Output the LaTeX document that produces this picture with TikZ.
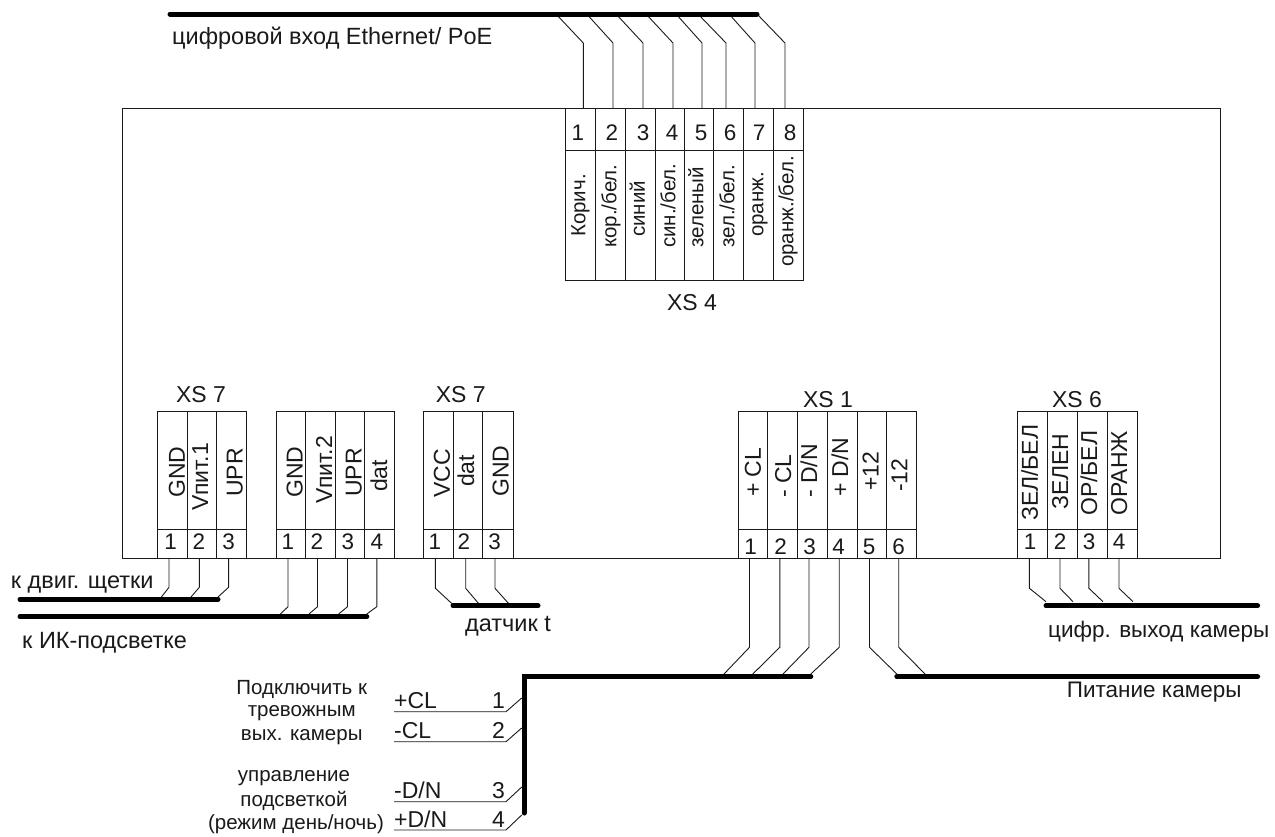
\documentclass[tikz,border=0pt]{standalone}
\usepackage{fontspec}
\setmainfont{Liberation Sans}
\definecolor{ink}{HTML}{1A1A1A}
\tikzset{
  wire/.style={draw=ink,line width=0.9pt},
  bus/.style={draw=black,line width=5pt,line cap=round},
  tline/.style={draw=ink,line width=0.9pt},
  lbl/.style={text=ink,inner sep=0pt,font=\fontsize{23.5}{26}\selectfont},
  lblc/.style={text=ink,inner sep=0pt,font=\fontsize{23}{26}\selectfont},
  small/.style={text=ink,inner sep=0pt,font=\fontsize{20.5}{23}\selectfont},
  digit/.style={text=ink,inner sep=0pt,font=\fontsize{22.5}{24}\selectfont},
  vert/.style={text=ink,inner sep=0pt,rotate=90,anchor=west,text height=16pt,text depth=0pt,font=\fontsize{23}{25}\selectfont},
  vertb/.style={text=ink,inner sep=0pt,rotate=90,anchor=west,text height=14.5pt,text depth=0pt,font=\fontsize{20.5}{23}\selectfont},
}
\newcommand{\gridtab}[4]{%
  \foreach \gx in {#1}{\draw[tline] (\gx,#2) -- (\gx,#4);}
  \foreach \gx [count=\gi] in {#1}{\ifnum\gi=1 \global\let\gfirst\gx\fi \global\let\glast\gx}
  \draw[tline] (\gfirst,#2) -- (\glast,#2);
  \draw[tline] (\gfirst,#3) -- (\glast,#3);
  \draw[tline] (\gfirst,#4) -- (\glast,#4);
}
\newcommand{\wirerun}[6]{%
  \coordinate (#1p) at (#2,#3);
  \coordinate (#1k) at (#2,#4);
  \coordinate (#1e) at (#5,#6);
  \draw[wire] (#1p) -- (#1k) -- (#1e);
}
\begin{document}
\begin{tikzpicture}[x=1pt,y=-1pt]
\useasboundingbox (0,0) rectangle (1275,836);
\fill[white] (0,0) rectangle (1275,836);

% main box
\node[draw=ink,line width=0.9pt,minimum width=1098pt,minimum height=450pt,anchor=north west,inner sep=0pt,outer sep=0pt] (box) at (122,108) {};

% XS4
\gridtab{565.7,595.7,625,655,684,713.7,743,773,803}{108}{150}{280.7}
\foreach \x/\n [count=\i] in {578/1,612/2,643/3,672/4,701/5,730/6,759/7,790/8}{
  \node[digit] (xs4d\i) at (\x,133) {\n};
}
\node[vertb] (xs4t1) at (578,237) {Корич.};
\node[vertb] (xs4t2) at (609,248) {кор./бел.};
\node[vertb] (xs4t3) at (637.5,237) {синий};
\node[vertb] (xs4t4) at (668,248) {син./бел.};
\node[vertb] (xs4t5) at (696,248) {зеленый};
\node[vertb] (xs4t6) at (727,248) {зел./бел.};
\node[vertb] (xs4t7) at (756,237) {оранж.};
\node[vertb] (xs4t8) at (786,267) {оранж./бел.};
\node[lblc] (xs4name) at (692,303) {XS 4};

% top bus
\coordinate (tbL) at (170,14);
\coordinate (tbR) at (757,14);
\wirerun{a1}{583.3}{108}{43}{556}{14}
\wirerun{a2}{613}{108}{43}{586.7}{14}
\wirerun{a3}{643}{108}{43}{616}{14}
\wirerun{a4}{673}{108}{43}{646}{14}
\wirerun{a5}{702}{108}{43}{676}{14}
\wirerun{a6}{726}{108}{43}{698}{14}
\wirerun{a7}{755}{108}{43}{729}{14}
\wirerun{a8}{785}{108}{43}{757}{14}
\draw[bus] (tbL) -- (tbR);
\node[lbl,anchor=west] (toplbl) at (172,38) {цифровой вход Ethernet/ PoE};

% XS7 (1)
\gridtab{157.5,187.5,216.8,246.8}{411}{529}{558}
\node[lblc] (xs7aname) at (201,395) {XS 7};
\node[digit] (b1d) at (170.7,542) {1};
\node[digit] (b2d) at (199,542) {2};
\node[digit] (b3d) at (228.6,542) {3};
\node[vert] (b1t) at (176.8,498) {GND};
\node[vert] (b2t) at (200,511) {Vпит.1};
\node[vert] (b3t) at (234.6,497) {UPR};
\wirerun{b1}{169}{558}{587.3}{161.4}{597}
\wirerun{b2}{199.3}{558}{587.3}{191}{597}
\wirerun{b3}{228.6}{558}{587.3}{218}{597}
\coordinate (bbL) at (20,599.3);
\coordinate (bbR) at (218,599.3);
\draw[bus] (bbL) -- (bbR);
\node[lbl,anchor=west] (blbl) at (10.7,585) {к двиг. щетки};

% XS7 (2) no title
\gridtab{276.8,305.7,335.7,364.6,394.6}{411}{529}{558}
\node[digit] (c1d) at (288,542) {1};
\node[digit] (c2d) at (317,542) {2};
\node[digit] (c3d) at (348,542) {3};
\node[digit] (c4d) at (377,542) {4};
\node[vert] (c1t) at (294.6,498) {GND};
\node[vert] (c2t) at (324,504) {Vпит.2};
\node[vert] (c3t) at (353.6,497) {UPR};
\node[vert] (c4t) at (379,492) {dat};
\wirerun{c1}{288}{558}{606.7}{280.4}{614}
\wirerun{c2}{317.5}{558}{606.7}{309}{614}
\wirerun{c3}{347.5}{558}{606.7}{338.6}{614}
\wirerun{c4}{376.8}{558}{606.7}{366.8}{614}
\coordinate (cbL) at (20,616.7);
\coordinate (cbR) at (366.8,616.7);
\draw[bus] (cbL) -- (cbR);
\node[lbl,anchor=west] (clbl) at (22,643) {к ИК-подсветке};

% XS7 (3)
\gridtab{423.6,453.6,482.9,513.2}{411}{529}{558}
\node[lblc] (xs7bname) at (460.7,395) {XS 7};
\node[digit] (d1d) at (435,542) {1};
\node[digit] (d2d) at (464,542) {2};
\node[digit] (d3d) at (494.6,542) {3};
\node[vert] (d1t) at (441.8,498) {VCC};
\node[vert] (d2t) at (466,487) {dat};
\node[vert] (d3t) at (500.7,497) {GND};
\wirerun{d1}{435.4}{558}{588.3}{451.8}{603.5}
\wirerun{d2}{465.7}{558}{588.3}{478.6}{603.5}
\wirerun{d3}{495}{558}{588.3}{508.6}{603.5}
\coordinate (dbL) at (453,605.7);
\coordinate (dbR) at (538,605.7);
\draw[bus] (dbL) -- (dbR);
\node[lbl,anchor=west] (dlbl) at (465,626) {датчик t};

% XS1
\gridtab{738.4,767.6,797.9,827.4,857.3,886.5,916.8}{411}{529}{558}
\node[lblc] (xs1name) at (828,400) {XS 1};
\foreach \x/\n in {750.6/1,780.5/2,809.7/3,838.5/4,869/5,898.7/6}{
  \node[digit] (e\n d) at (\x,547) {\n};
}
\node[vert] (e1t) at (752.8,497) {+ CL};
\node[vert] (e2t) at (783,498) {- CL};
\node[vert] (e3t) at (809,498) {- D/N};
\node[vert] (e4t) at (840,497) {+ D/N};
\node[vert] (e5t) at (870.6,491) {+12};
\node[vert] (e6t) at (899.4,492) {-12};
\wirerun{e1}{749.5}{558}{647.3}{724}{674}
\wirerun{e2}{779.8}{558}{647.3}{752.8}{674}
\wirerun{e3}{809}{558}{647.3}{783}{674}
\wirerun{e4}{839.2}{558}{647.3}{810.8}{674}
\wirerun{e5}{869.5}{558}{647.3}{896.8}{674}
\wirerun{e6}{898.7}{558}{647.3}{925}{674}
\coordinate (ebR) at (810.8,676.7);
\coordinate (ebC) at (524,676.7);
\coordinate (ebB) at (524,813);
\draw[bus,line join=miter] (ebR) -- (ebC) -- (ebB);
\coordinate (fbL) at (896.8,676.7);
\coordinate (fbR) at (1257.6,676.7);
\draw[bus] (fbL) -- (fbR);
\node[lblc,anchor=west,font=\fontsize{22.5}{26}\selectfont] (flbl) at (1066.7,692) {Питание камеры};

% XS6
\gridtab{1017.6,1047.9,1077,1107.3,1137.6}{411}{529}{558}
\node[lblc] (xs6name) at (1077,400) {XS 6};
\foreach \x/\n in {1030/1,1060/2,1089/3,1119/4}{
  \node[digit] (g\n d) at (\x,542) {\n};
}
\node[vert] (g1t) at (1029.8,521) {ЗЕЛ/БЕЛ};
\node[vert] (g2t) at (1060,510) {ЗЕЛЕН};
\node[vert] (g3t) at (1089,516) {ОР/БЕЛ};
\node[vert] (g4t) at (1119,516) {ОРАНЖ};
\wirerun{g1}{1029.4}{558}{588.3}{1046}{601.7}
\wirerun{g2}{1060}{558}{588.3}{1073}{601.7}
\wirerun{g3}{1088.9}{558}{588.3}{1103}{601.7}
\wirerun{g4}{1119}{558}{588.3}{1133}{601.7}
\coordinate (gbL) at (1046,605.7);
\coordinate (gbR) at (1257.6,605.7);
\draw[bus] (gbL) -- (gbR);
\node[lblc,anchor=west,font=\fontsize{22.5}{26}\selectfont] (glbl) at (1048,632) {цифр. выход камеры};

% alarm / day-night taps
\coordinate (h1a) at (394,711.7); \coordinate (h1b) at (506,711.7); \coordinate (h1c) at (521.7,698);
\coordinate (h2a) at (394,741.7); \coordinate (h2b) at (506,741.7); \coordinate (h2c) at (521.7,728);
\coordinate (h3a) at (394,801.7); \coordinate (h3b) at (506,801.7); \coordinate (h3c) at (521.7,787);
\coordinate (h4a) at (394,830);   \coordinate (h4b) at (506,830);   \coordinate (h4c) at (521.7,815);
\draw[wire] (h1a) -- (h1b) -- (h1c);
\draw[wire] (h2a) -- (h2b) -- (h2c);
\draw[wire] (h3a) -- (h3b) -- (h3c);
\draw[wire] (h4a) -- (h4b) -- (h4c);
\node[lblc,anchor=base west] (h1t) at (394,708) {+CL};
\node[lblc,anchor=base west] (h2t) at (394,738) {-CL};
\node[lblc,anchor=base west] (h3t) at (394,798) {-D/N};
\node[lblc,anchor=base west] (h4t) at (394,827) {+D/N};
\node[lblc,anchor=base east] (h1n) at (505,708) {1};
\node[lblc,anchor=base east] (h2n) at (505,738) {2};
\node[lblc,anchor=base east] (h3n) at (505,798) {3};
\node[lblc,anchor=base east] (h4n) at (505,827) {4};

\node[small] (m1) at (301.7,689) {Подключить к};
\node[small] (m2) at (301.7,713) {тревожным};
\node[small] (m3) at (301.7,737) {вых. камеры};
\node[small] (m4) at (294,778) {управление};
\node[small] (m5) at (294,801) {подсветкой};
\node[small] (m6) at (296,824) {(режим день/ночь)};
\end{tikzpicture}
\end{document}
